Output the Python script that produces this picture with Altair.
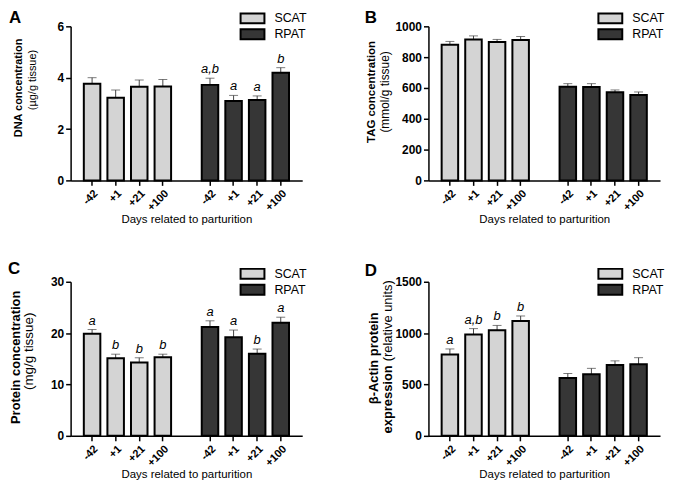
import altair as alt
import pandas as pd

days = ["-42", "+1", "+21", "+100"]
tissues = ["SCAT", "RPAT"]
x_title = "Days related to parturition"

# Panel A: DNA concentration (µg/g tissue)
a_scat = [3.76, 3.22, 3.65, 3.66]
a_scat_err = [0.24, 0.30, 0.26, 0.27]
a_rpat = [3.72, 3.09, 3.13, 4.19]
a_rpat_err = [0.26, 0.22, 0.16, 0.20]
a_ann_scat = ["", "", "", ""]
a_ann_rpat = ["a,b", "a", "a", "b"]

# Panel B: TAG concentration (mmol/g tissue)
b_scat = [880, 914, 898, 912]
b_scat_err = [22, 24, 17, 22]
b_rpat = [608, 606, 572, 555]
b_rpat_err = [20, 22, 15, 19]
b_ann_scat = ["", "", "", ""]
b_ann_rpat = ["", "", "", ""]

# Panel C: Protein concentration (mg/g tissue)
c_scat = [19.9, 15.1, 14.3, 15.3]
c_scat_err = [0.8, 0.8, 0.9, 0.6]
c_rpat = [21.2, 19.2, 16.0, 22.0]
c_rpat_err = [1.2, 1.4, 0.9, 1.1]
c_ann_scat = ["a", "b", "b", "b"]
c_ann_rpat = ["a", "a", "b", "a"]

# Panel D: beta-Actin protein expression (relative units)
d_scat = [792, 987, 1028, 1119]
d_scat_err = [54, 57, 47, 48]
d_rpat = [563, 600, 689, 698]
d_rpat_err = [44, 57, 41, 63]
d_ann_scat = ["a", "a,b", "b", "b"]
d_ann_rpat = ["", "", "", ""]

FONT = "Liberation Sans"
FILLS = ["#d4d4d4", "#363636"]
W, H = 233, 155

keys = [f"SCAT|{d}" for d in days] + ["gap"] + [f"RPAT|{d}" for d in days]
tick_keys = [k for k in keys if k != "gap"]


def frame(scat, scat_err, rpat, rpat_err, ann_s, ann_r):
    rows = []
    for t, vals, errs, anns in (("SCAT", scat, scat_err, ann_s), ("RPAT", rpat, rpat_err, ann_r)):
        for d, v, e, a in zip(days, vals, errs, anns):
            rows.append({"key": f"{t}|{d}", "tissue": t, "day": d, "value": v,
                         "upper": v + e, "ann": a})
    return pd.DataFrame(rows)


def panel(df, letter, letter_pos, ymax, yticks, title_marks):
    x = alt.X("key:N", sort=keys,
              scale=alt.Scale(domain=keys, paddingInner=0.3, paddingOuter=0.56),
              axis=alt.Axis(values=tick_keys, labelExpr="split(datum.value, '|')[1]",
                            labelAngle=-45, labelFontSize=11, labelFontWeight="bold",
                            title=x_title, titleFontWeight="normal", titleFontSize=11.5,
                            titlePadding=1, labelPadding=2, labelOverlap=False))
    y_scale = alt.Scale(domain=[0, ymax], nice=False)
    y_axis = alt.Axis(values=yticks, title=None, grid=False, labelFontSize=12,
                      labelFontWeight="bold", labelPadding=2, format="d",
                      labelOverlap=False)
    base = alt.Chart(df)
    err = base.mark_rule(color="#444444", strokeWidth=1).encode(
        x=x, y=alt.Y("value:Q", scale=y_scale, axis=y_axis), y2="upper:Q")
    cap = base.mark_tick(color="#444444", thickness=1, size=9).encode(
        x=x, y=alt.Y("upper:Q", scale=y_scale, axis=y_axis))
    bars = base.mark_bar(stroke="black", strokeWidth=2).encode(
        x=x, y=alt.Y("value:Q", scale=y_scale, axis=y_axis),
        fill=alt.Fill("tissue:N", scale=alt.Scale(domain=tissues, range=FILLS),
                      legend=alt.Legend(orient="none", legendX=176, legendY=-15,
                                        title=None, padding=0,
                                        symbolType="M-2,-0.83L2,-0.83L2,0.83L-2,0.83Z",
                                        symbolSize=144, symbolStrokeColor="black",
                                        symbolStrokeWidth=2, symbolOpacity=1,
                                        labelFontSize=12.5, labelFont=FONT,
                                        labelColor="black", labelOffset=15,
                                        rowPadding=-2)))
    ann = base.mark_text(fontStyle="italic", fontSize=13, baseline="bottom", dy=-2,
                         color="black").encode(
        x=x, y=alt.Y("upper:Q", scale=y_scale, axis=y_axis), text="ann:N")
    lx, ly = letter_pos
    let = alt.Chart(pd.DataFrame({"t": [letter]})).mark_text(
        align="left", baseline="alphabetic", fontSize=17, fontWeight="bold",
        color="black").encode(text="t:N", x=alt.value(lx), y=alt.value(ly))
    layers = [err, cap, bars, ann, let]
    for txt, tx, ty, size, weight, align in title_marks:
        layers.append(alt.Chart(pd.DataFrame({"t": [txt]})).mark_text(
            angle=270, align=align, baseline="middle", fontSize=size,
            fontWeight=weight, color="black").encode(
            text="t:N", x=alt.value(tx), y=alt.value(ty)))
    return alt.layer(*layers).properties(width=W, height=H)


pa = panel(frame(a_scat, a_scat_err, a_rpat, a_rpat_err, a_ann_scat, a_ann_rpat),
           "A", (-62, -3), 6, [0, 2, 4, 6],
           [("DNA concentration", -52, 62, 11, "bold", "center"),
            ("(µg/g tissue)", -38, 54, 11, "normal", "center")])
pb = panel(frame(b_scat, b_scat_err, b_rpat, b_rpat_err, b_ann_scat, b_ann_rpat),
           "B", (-64, -3), 1000, [0, 200, 400, 600, 800, 1000],
           [("TAG concentration", -57, 66, 11.5, "bold", "center"),
            ("(mmol/g tissue)", -44, 66, 12, "normal", "center")])
pc = panel(frame(c_scat, c_scat_err, c_rpat, c_rpat_err, c_ann_scat, c_ann_rpat),
           "C", (-63, -8), 30, [0, 10, 20, 30],
           [("Protein concentration", -55, 76, 13, "bold", "center"),
            ("(mg/g tissue)", -42, 70, 13.5, "normal", "center")])
pd_ = panel(frame(d_scat, d_scat_err, d_rpat, d_rpat_err, d_ann_scat, d_ann_rpat),
            "D", (-64, -6), 1500, [0, 500, 1000, 1500],
            [("β-Actin protein", -55, 77, 13, "bold", "center"),
             ("expression", -41, 84, 13, "bold", "right"),
             ("(relative units)", -41, 80, 13, "normal", "left")])

chart = alt.concat(pa, pb, pc, pd_, columns=2,
                   spacing={"row": 102, "column": 127}, bounds="flush").resolve_scale(
    fill="independent").resolve_legend(fill="independent").properties(
    padding=0).configure(font=FONT).configure_view(stroke=None).configure_axis(
    domainColor="black", domainWidth=1.5, tickColor="black", tickWidth=1.5,
    tickSize=5, labelColor="black", titleColor="black", labelFont=FONT,
    titleFont=FONT)

chart.save("out.html", embed_options={"renderer": "svg", "actions": False})
